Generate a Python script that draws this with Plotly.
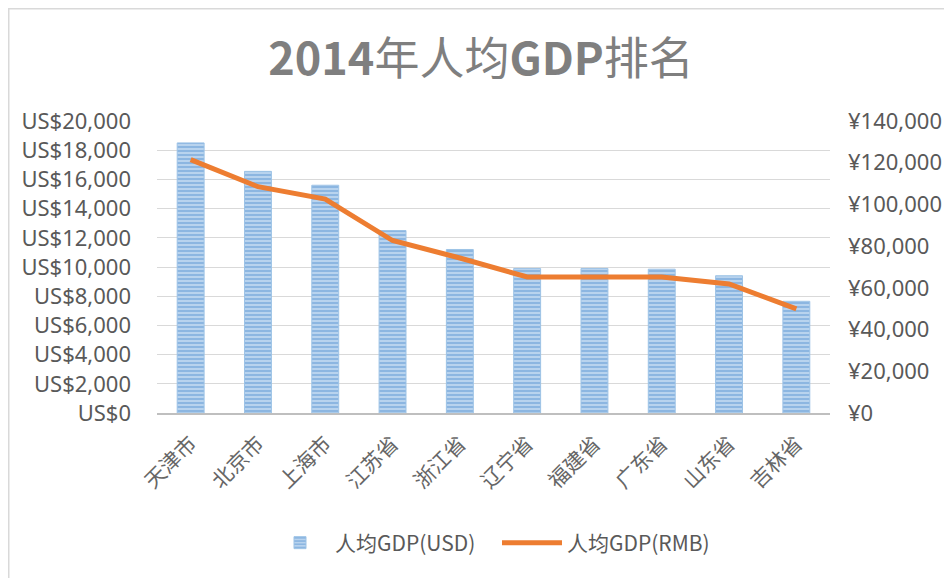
import plotly.graph_objects as go

categories = ["天津市", "北京市", "上海市", "江苏省", "浙江省", "辽宁省", "福建省", "广东省", "山东省", "吉林省"]
usd_values = [18500, 16550, 15600, 12500, 11200, 9900, 9900, 9850, 9400, 7650]
rmb_values = [121500, 108500, 102600, 82700, 74300, 65200, 65200, 65200, 61900, 49900]

left_ticks = list(range(0, 20001, 2000))
left_labels = ["US$" + format(v, ",") for v in left_ticks]
right_ticks = list(range(0, 140001, 20000))
right_labels = ["¥" + format(v, ",") for v in right_ticks]

# page has an 8px body margin; figure coordinates = screenshot - 8
W, H = 952, 578
L, T = 149, 113
PR, PB = 822, 405
R, B = W - PR, H - PB
pw, ph = PR - L, PB - T

fig = go.Figure()
fig.add_trace(go.Bar(
    x=categories, y=usd_values, name="人均GDP(USD)",
    marker=dict(
        color="#B4D0EE",
        line=dict(color="#9DC3E6", width=1),
        pattern=dict(shape="-", fgcolor="#5592D0", bgcolor="#C3DAF2", size=4, solidity=0.6),
    ),
    width=0.4,
))
fig.add_trace(go.Scatter(
    x=categories, y=rmb_values, name="人均GDP(RMB)", yaxis="y2",
    mode="lines", line=dict(color="#ED7D31", width=5),
))

tick_font = dict(family="Noto Sans, Noto Sans CJK SC", size=22, color="#595959")

fig.update_layout(
    width=W, height=H,
    margin=dict(l=L, r=R, t=T, b=B, autoexpand=False),
    paper_bgcolor="white", plot_bgcolor="white",
    title=dict(
        text="<b>2014</b>年人均<b>GDP</b>排名",
        x=(473 - L) / pw, xref="paper", xanchor="center",
        y=(H - 51) / H, yref="container", yanchor="middle",
        font=dict(family="Noto Sans CJK SC", size=45, color="#7F7F7F"),
    ),
    xaxis=dict(
        tickangle=-45,
        tickfont=dict(family="Noto Sans CJK SC", size=21, color="#666666"),
        showline=True, linecolor="#BFBFBF", linewidth=2, ticks="",
        showgrid=False, automargin=False, ticklabelstandoff=8,
    ),
    yaxis=dict(
        range=[0, 20000], tickvals=left_ticks, ticktext=left_labels,
        tickfont=tick_font, showgrid=True, gridcolor="#D9D9D9", gridwidth=1,
        zeroline=False, ticks="", automargin=False, ticklabelstandoff=25,
    ),
    yaxis2=dict(
        range=[0, 140000], tickvals=right_ticks, ticktext=right_labels,
        tickfont=tick_font, overlaying="y", side="right", showgrid=False,
        zeroline=False, ticks="", automargin=False, ticklabelstandoff=17,
    ),
    legend=dict(
        orientation="h", x=(489 - L) / pw, xanchor="center",
        y=(PB - 535) / ph, yanchor="middle",
        font=dict(family="Noto Sans CJK SC", size=21, color="#595959"),
        itemwidth=60, entrywidth=157, entrywidthmode="pixels",
    ),
    showlegend=True,
)

fig.add_shape(
    type="rect", xref="paper", yref="paper",
    x0=(0.75 - L) / pw, x1=(W + 20 - L) / pw,
    y0=(PB - (H + 20)) / ph, y1=(PB - 0.75) / ph,
    line=dict(color="#D9D9D9", width=1.5), fillcolor="rgba(0,0,0,0)", layer="below",
)

fig.write_html("out.html")
